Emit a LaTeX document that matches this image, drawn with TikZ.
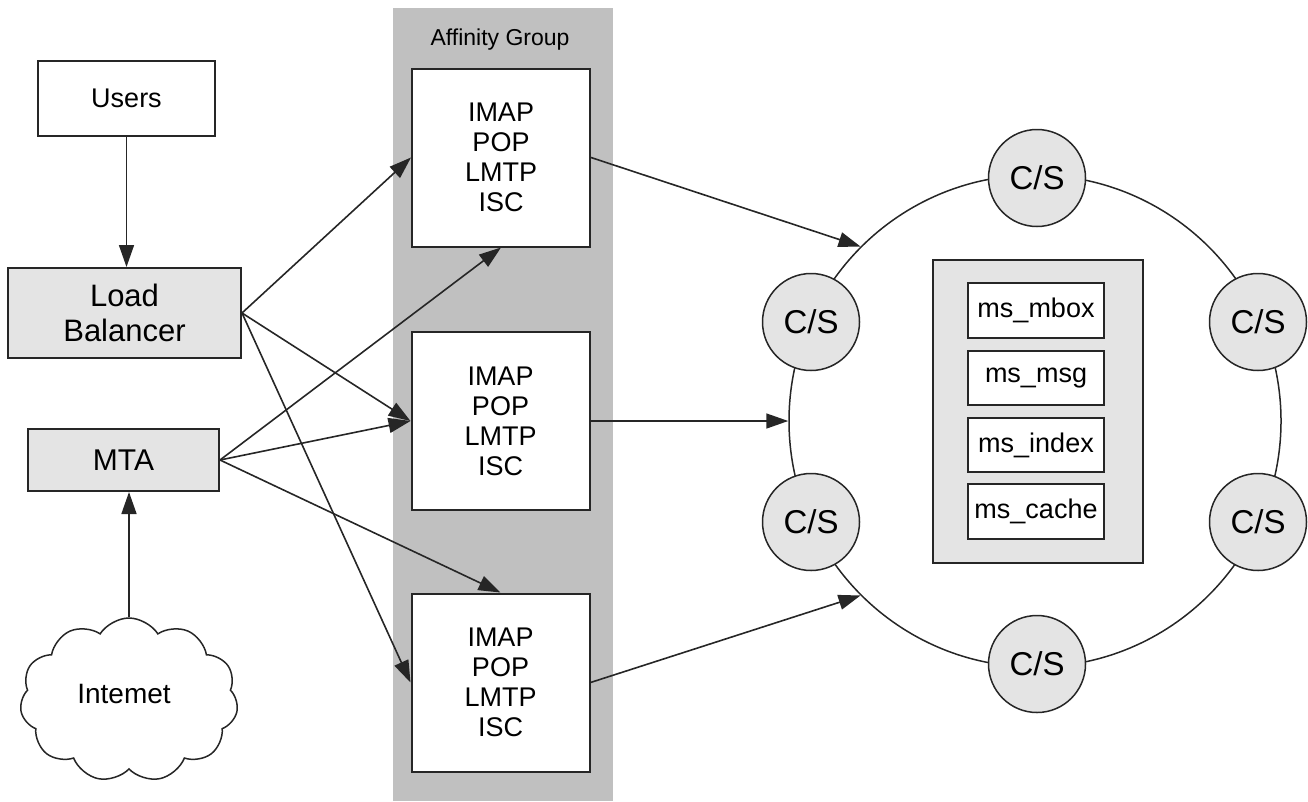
\documentclass[tikz,border=0pt]{standalone}
\usepackage{fontspec}
\setmainfont{Liberation Sans}
\usetikzlibrary{arrows.meta,shapes.symbols}
\definecolor{linec}{HTML}{262626}
\definecolor{lightg}{HTML}{E4E4E4}
\definecolor{groupg}{HTML}{C0C0C0}
\tikzset{
  box/.style={draw=linec, line width=2pt, fill=white, inner sep=0pt, align=center, text=black},
  graybox/.style={box, fill=lightg},
  arr/.style={draw=linec, line width=1.6pt, -{Triangle[length=22pt,width=15pt]}},
  cs/.style={circle, draw=linec, line width=1.5pt, fill=lightg, minimum size=97pt, inner sep=0pt, font=\fontsize{33}{36}\selectfont},
  msbox/.style={box, minimum width=136pt, font=\fontsize{27}{30}\selectfont},
  svc/.style={box, minimum width=178pt, minimum height=178pt, font=\fontsize{27}{30}\selectfont, align=center},
}
\begin{document}
\begin{tikzpicture}[x=1pt,y=-1pt]
\useasboundingbox (0,0) rectangle (1308,801);
% affinity group band
\node[fill=groupg, inner sep=0pt, minimum width=220pt, minimum height=793pt] (grp) at (503,404.5) {};
\node[font=\fontsize{23}{26}\selectfont, text=black] (grptitle) at (500,40) {Affinity Group};
% left column
\node[box, minimum width=177pt, minimum height=75pt, font=\fontsize{27}{30}\selectfont] (users) at (126.5,98.5) {Users};
\node[graybox, minimum width=233pt, minimum height=90pt, font=\fontsize{31}{35}\selectfont] (lb) at (124.5,313) {Load\\Balancer};
\node[graybox, minimum width=191pt, minimum height=62pt, font=\fontsize{30}{33}\selectfont] (mta) at (123.5,460) {MTA};
\node[cloud, draw=linec, line width=1.5pt, fill=white, cloud puffs=11, cloud puff arc=115, cloud ignores aspect, minimum width=218pt, minimum height=164pt, inner sep=0pt, font=\fontsize{28}{31}\selectfont] (cloud) at (129,700) {};
\node[font=\fontsize{28}{31}\selectfont, text=black] (inettext) at (124,694) {Intemet};
% service boxes
\node[svc] (s1) at (501,157.5) {IMAP\\POP\\LMTP\\ISC};
\node[svc] (s2) at (500.5,421) {IMAP\\POP\\LMTP\\ISC};
\node[svc] (s3) at (500.5,682.5) {IMAP\\POP\\LMTP\\ISC};
% ring
\node[circle, draw=linec, line width=1.5pt, minimum size=492pt, inner sep=0pt] (ring) at (1035,421) {};
\node[cs] (cst) at (1037,178) {C/S};
\node[cs] (csb) at (1037,664) {C/S};
\node[cs] (cslt) at (811,322) {C/S};
\node[cs] (cslb) at (811,522) {C/S};
\node[cs] (csrt) at (1258,322) {C/S};
\node[cs] (csrb) at (1258,522) {C/S};
% store
\node[graybox, minimum width=210pt, minimum height=303pt] (store) at (1038,411.5) {};
\node[msbox, minimum height=55pt] (mbox) at (1036,310.5) {ms\_mbox};
\node[msbox, minimum height=54pt] (msg) at (1036,378) {ms\_msg};
\node[msbox, minimum height=54pt] (index) at (1036,445) {ms\_index};
\node[msbox, minimum height=55pt] (cache) at (1036,511.5) {ms\_cache};
% connectors
\draw[arr] (users.south) -- (users.south |- lb.north);
\draw[arr] (cloud.north) -- (cloud.north |- mta.south);
\draw[arr] (lb.east) -- (s1.west);
\draw[arr] (lb.east) -- (s2.west);
\draw[arr] (lb.east) -- (s3.west);
\draw[arr] (mta.east) -- (s1.south);
\draw[arr] (mta.east) -- (s2.west);
\draw[arr] (mta.east) -- (s3.north);
\draw[arr] (s1.east) -- (ring.135);
\draw[arr] (s2.east) -- (ring.180);
\draw[arr] (s3.east) -- (ring.225);
\end{tikzpicture}
\end{document}
